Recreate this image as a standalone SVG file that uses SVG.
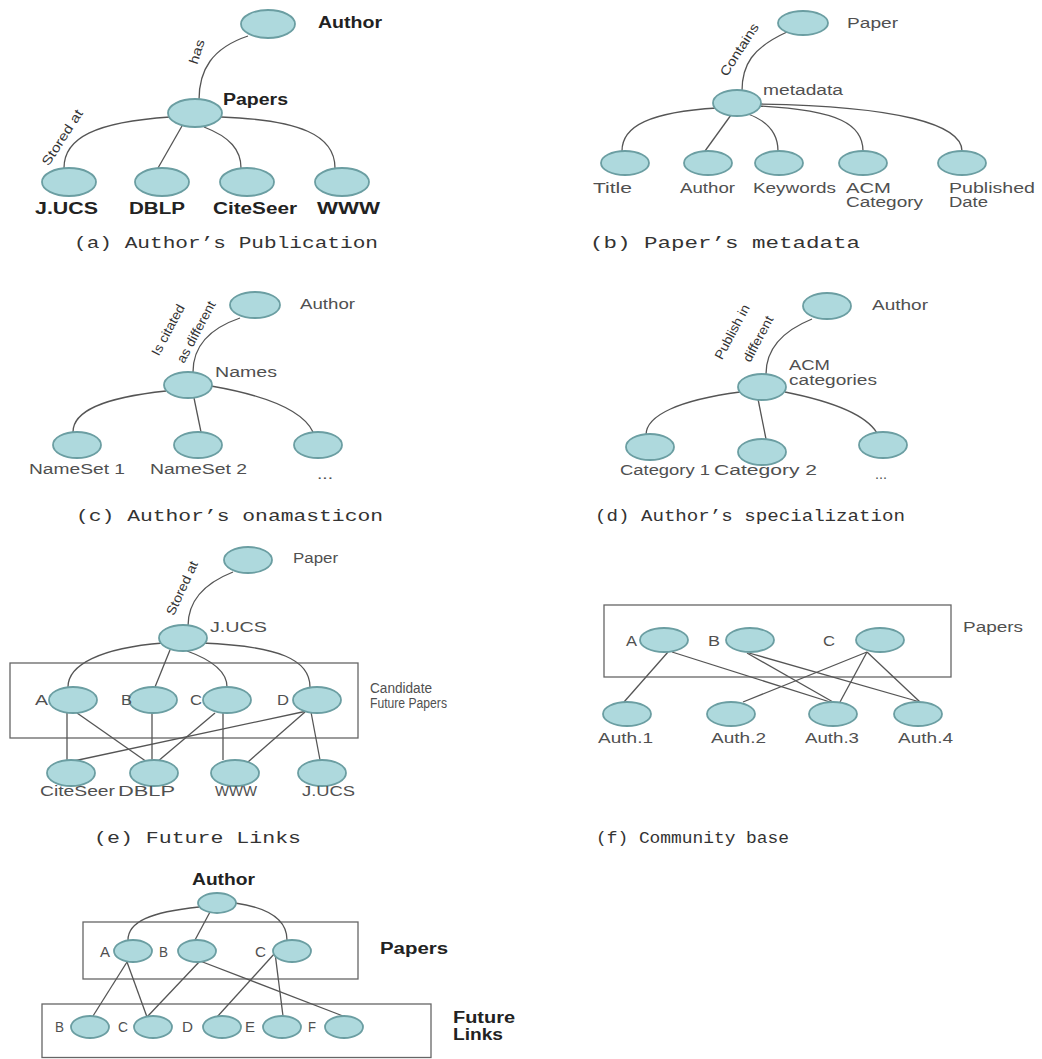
<svg xmlns="http://www.w3.org/2000/svg" width="1042" height="1059" viewBox="0 0 1042 1059">
  <style>
    .nd { fill: #aed9dd; stroke: #6b9ea2; stroke-width: 1.8; }
    .ln { fill: none; stroke: #555; stroke-width: 1.3; }
    .box { fill: none; stroke: #666; stroke-width: 1.3; }
    .lb { font-family: "Liberation Sans", Arial, sans-serif; font-size: 14px; fill: #505050; }
    .bd { font-family: "Liberation Sans", Arial, sans-serif; font-size: 16px; font-weight: bold; fill: #222; }
    .rt { font-family: "Liberation Sans", Arial, sans-serif; font-size: 13px; fill: #333; text-anchor: middle; }
    .cap { font-family: "Liberation Mono", "Courier New", monospace; font-size: 16px; fill: #333; }
  </style>
  <rect width="1042" height="1059" fill="#fff"/>

  <!-- connectors and grouping frames -->
  <g id="connectors">
    <!-- (a) -->
    <path class="ln" d="M 248 36 C 212 48 199 70 199 100"/>
    <path class="ln" d="M 170 117 C 95 122 64 138 64 168"/>
    <path class="ln" d="M 182 126 L 158 168"/>
    <path class="ln" d="M 204 127 C 230 137 241 150 241 168"/>
    <path class="ln" d="M 221 117 C 300 120 335 135 335 168"/>
    <!-- (b) -->
    <path class="ln" d="M 787 32 C 752 48 742 65 742 91"/>
    <path class="ln" d="M 717 108 C 650 112 622 126 622 151"/>
    <path class="ln" d="M 731 115 L 705 151"/>
    <path class="ln" d="M 748 114 C 770 122 778 135 778 151"/>
    <path class="ln" d="M 759 106 C 840 110 863 125 863 151"/>
    <path class="ln" d="M 760 104 C 900 106 962 125 962 151"/>
    <!-- (c) -->
    <path class="ln" d="M 240 318 C 205 330 193 350 193 372"/>
    <path class="ln" d="M 166 391 C 100 398 73 412 73 432"/>
    <path class="ln" d="M 194 398 L 201 432"/>
    <path class="ln" d="M 211 386 C 280 398 305 415 313 432"/>
    <!-- (d) -->
    <path class="ln" d="M 812 319 C 780 332 766 350 766 374"/>
    <path class="ln" d="M 740 392 C 680 400 646 415 646 435"/>
    <path class="ln" d="M 758 399 L 766 439"/>
    <path class="ln" d="M 785 392 C 840 403 868 418 877 433"/>
    <!-- (e) -->
    <rect class="box" x="10" y="663" width="348" height="75"/>
    <path class="ln" d="M 233 572 C 200 585 188 605 188 626"/>
    <path class="ln" d="M 163 643 C 100 648 68 665 68 687"/>
    <path class="ln" d="M 170 650 L 155 687"/>
    <path class="ln" d="M 187 651 C 212 660 227 672 227 687"/>
    <path class="ln" d="M 202 643 C 280 646 310 660 310 687"/>
    <path class="ln" d="M 67 713 L 67 760"/>
    <path class="ln" d="M 77 713 L 147 762"/>
    <path class="ln" d="M 152 713 L 152 760"/>
    <path class="ln" d="M 215 713 L 157 762"/>
    <path class="ln" d="M 223 713 L 223 760"/>
    <path class="ln" d="M 307 711 L 69 762"/>
    <path class="ln" d="M 305 712 L 248 762"/>
    <path class="ln" d="M 311 712 L 320 760"/>
    <!-- (f) -->
    <rect class="box" x="604" y="605" width="347" height="72"/>
    <path class="ln" d="M 668 652 L 624 702"/>
    <path class="ln" d="M 672 652 L 830 702"/>
    <path class="ln" d="M 747 653 L 833 702"/>
    <path class="ln" d="M 749 653 L 920 702"/>
    <path class="ln" d="M 867 652 L 743 702"/>
    <path class="ln" d="M 867 652 L 840 702"/>
    <path class="ln" d="M 867 652 L 920 702"/>
    <!-- (g) -->
    <rect class="box" x="83" y="922" width="275" height="57"/>
    <rect class="box" x="42" y="1004" width="389" height="53.5"/>
    <path class="ln" d="M 199 907 C 150 912 128 922 128 940"/>
    <path class="ln" d="M 210 912 L 195 940"/>
    <path class="ln" d="M 235 903 C 270 908 287 920 287 940"/>
    <path class="ln" d="M 127 962 L 93 1016"/>
    <path class="ln" d="M 127 962 L 147 1017"/>
    <path class="ln" d="M 200 961 L 147 1017"/>
    <path class="ln" d="M 200 961 L 343 1016"/>
    <path class="ln" d="M 275 953 L 217 1017"/>
    <path class="ln" d="M 275 953 L 283 1016"/>
  </g>

  <!-- edge labels -->
  <g id="edge-labels">
    <text class="rt" transform="translate(201,53) rotate(-72)" textLength="25" lengthAdjust="spacingAndGlyphs">has</text>
    <text class="rt" transform="translate(66,140) rotate(-57)" font-size="14" textLength="64" lengthAdjust="spacingAndGlyphs">Stored at</text>
    <text class="rt" transform="translate(743,52) rotate(-57)" textLength="60" lengthAdjust="spacingAndGlyphs">Contains</text>
    <text class="rt" transform="translate(172,332) rotate(-62)" textLength="56" lengthAdjust="spacingAndGlyphs">Is citated</text>
    <text class="rt" transform="translate(200,334) rotate(-62)" textLength="68" lengthAdjust="spacingAndGlyphs">as different</text>
    <text class="rt" transform="translate(736,334) rotate(-62)" textLength="60" lengthAdjust="spacingAndGlyphs">Publish in</text>
    <text class="rt" transform="translate(762,341) rotate(-62)" textLength="50" lengthAdjust="spacingAndGlyphs">different</text>
    <text class="rt" transform="translate(186,590) rotate(-65)" textLength="58" lengthAdjust="spacingAndGlyphs">Stored at</text>
  </g>

  <!-- (a) Author's Publication -->
  <g id="a-author"><ellipse class="nd" cx="268" cy="24" rx="27" ry="14"/><text class="bd" x="318" y="28" textLength="64" lengthAdjust="spacingAndGlyphs">Author</text></g>
  <g id="a-papers"><ellipse class="nd" cx="195" cy="113" rx="27" ry="14"/><text class="bd" x="223" y="105" textLength="65" lengthAdjust="spacingAndGlyphs">Papers</text></g>
  <g id="a-jucs"><ellipse class="nd" cx="69" cy="182" rx="27" ry="14"/><text class="bd" x="35" y="214" textLength="63" lengthAdjust="spacingAndGlyphs">J.UCS</text></g>
  <g id="a-dblp"><ellipse class="nd" cx="162" cy="182" rx="27" ry="14"/><text class="bd" x="129" y="214" textLength="56" lengthAdjust="spacingAndGlyphs">DBLP</text></g>
  <g id="a-citeseer"><ellipse class="nd" cx="247" cy="182" rx="27" ry="14"/><text class="bd" x="213" y="214" textLength="84" lengthAdjust="spacingAndGlyphs">CiteSeer</text></g>
  <g id="a-www"><ellipse class="nd" cx="342" cy="182" rx="27" ry="14"/><text class="bd" x="317" y="214" textLength="63" lengthAdjust="spacingAndGlyphs">WWW</text></g>
  <text class="cap" x="74" y="248" textLength="304" lengthAdjust="spacingAndGlyphs">(a) Author’s Publication</text>

  <!-- (b) Paper's metadata -->
  <g id="b-paper"><ellipse class="nd" cx="803" cy="23" rx="25" ry="12"/><text class="lb" x="847" y="28" textLength="51" lengthAdjust="spacingAndGlyphs">Paper</text></g>
  <g id="b-metadata"><ellipse class="nd" cx="737" cy="103" rx="24" ry="13"/><text class="lb" x="763" y="95" textLength="80" lengthAdjust="spacingAndGlyphs">metadata</text></g>
  <g id="b-title"><ellipse class="nd" cx="625" cy="163" rx="24" ry="12"/><text class="lb" x="593" y="193" textLength="39" lengthAdjust="spacingAndGlyphs">Title</text></g>
  <g id="b-author"><ellipse class="nd" cx="708" cy="163" rx="24" ry="12"/><text class="lb" x="680" y="193" textLength="55" lengthAdjust="spacingAndGlyphs">Author</text></g>
  <g id="b-keywords"><ellipse class="nd" cx="779" cy="163" rx="24" ry="12"/><text class="lb" x="753" y="193" textLength="83" lengthAdjust="spacingAndGlyphs">Keywords</text></g>
  <g id="b-acm"><ellipse class="nd" cx="863" cy="163" rx="24" ry="12"/><text class="lb" x="846" y="193" textLength="45" lengthAdjust="spacingAndGlyphs">ACM</text><text class="lb" x="846" y="207" textLength="77" lengthAdjust="spacingAndGlyphs">Category</text></g>
  <g id="b-published"><ellipse class="nd" cx="962" cy="163" rx="24" ry="12"/><text class="lb" x="949" y="193" textLength="86" lengthAdjust="spacingAndGlyphs">Published</text><text class="lb" x="949" y="207" textLength="39" lengthAdjust="spacingAndGlyphs">Date</text></g>
  <text class="cap" x="590" y="248" textLength="270" lengthAdjust="spacingAndGlyphs">(b) Paper’s metadata</text>

  <!-- (c) Author's onamasticon -->
  <g id="c-author"><ellipse class="nd" cx="255" cy="305" rx="25" ry="13"/><text class="lb" x="300" y="309" textLength="55" lengthAdjust="spacingAndGlyphs">Author</text></g>
  <g id="c-names"><ellipse class="nd" cx="188" cy="385" rx="24" ry="13"/><text class="lb" x="215" y="377" textLength="62" lengthAdjust="spacingAndGlyphs">Names</text></g>
  <g id="c-nameset1"><ellipse class="nd" cx="77" cy="445" rx="24" ry="13"/><text class="lb" x="29" y="474" textLength="96" lengthAdjust="spacingAndGlyphs">NameSet 1</text></g>
  <g id="c-nameset2"><ellipse class="nd" cx="198" cy="445" rx="24" ry="13"/><text class="lb" x="150" y="474" textLength="97" lengthAdjust="spacingAndGlyphs">NameSet 2</text></g>
  <g id="c-more"><ellipse class="nd" cx="318" cy="445" rx="24" ry="13"/><text class="lb" x="317" y="479" textLength="16" lengthAdjust="spacingAndGlyphs">...</text></g>
  <text class="cap" x="76" y="521" textLength="307" lengthAdjust="spacingAndGlyphs">(c) Author’s onamasticon</text>

  <!-- (d) Author's specialization -->
  <g id="d-author"><ellipse class="nd" cx="827" cy="306" rx="24" ry="13"/><text class="lb" x="872" y="310" textLength="56" lengthAdjust="spacingAndGlyphs">Author</text></g>
  <g id="d-acm"><ellipse class="nd" cx="762" cy="387" rx="24" ry="13"/><text class="lb" x="789" y="370" textLength="41" lengthAdjust="spacingAndGlyphs">ACM</text><text class="lb" x="789" y="385" textLength="88" lengthAdjust="spacingAndGlyphs">categories</text></g>
  <g id="d-cat1"><ellipse class="nd" cx="650" cy="447" rx="24" ry="13"/><text class="lb" x="620" y="475" textLength="90" lengthAdjust="spacingAndGlyphs">Category 1</text></g>
  <g id="d-cat2"><ellipse class="nd" cx="762" cy="452" rx="24" ry="13"/><text class="lb" x="714" y="475" textLength="103" lengthAdjust="spacingAndGlyphs">Category 2</text></g>
  <g id="d-more"><ellipse class="nd" cx="883" cy="445" rx="24" ry="13"/><text class="lb" x="875" y="479" fill="#aaa" textLength="12" lengthAdjust="spacingAndGlyphs">...</text></g>
  <text class="cap" x="595" y="521" textLength="310" lengthAdjust="spacingAndGlyphs">(d) Author’s specialization</text>

  <!-- (e) Future Links -->
  <g id="e-paper"><ellipse class="nd" cx="248" cy="560" rx="24" ry="13"/><text class="lb" x="293" y="563" textLength="45" lengthAdjust="spacingAndGlyphs">Paper</text></g>
  <g id="e-jucs"><ellipse class="nd" cx="183" cy="638" rx="24" ry="13"/><text class="lb" x="210" y="632" textLength="57" lengthAdjust="spacingAndGlyphs">J.UCS</text></g>
  <g id="e-a"><ellipse class="nd" cx="73" cy="700" rx="24" ry="13"/><text class="lb" x="35" y="705" textLength="13" lengthAdjust="spacingAndGlyphs">A</text></g>
  <g id="e-b"><ellipse class="nd" cx="153" cy="700" rx="24" ry="13"/><text class="lb" x="121" y="705" textLength="11" lengthAdjust="spacingAndGlyphs">B</text></g>
  <g id="e-c"><ellipse class="nd" cx="227" cy="700" rx="24" ry="13"/><text class="lb" x="190" y="705" textLength="12" lengthAdjust="spacingAndGlyphs">C</text></g>
  <g id="e-d"><ellipse class="nd" cx="317" cy="700" rx="24" ry="13"/><text class="lb" x="277" y="705" textLength="12" lengthAdjust="spacingAndGlyphs">D</text></g>
  <g id="e-candidate"><text class="lb" x="370" y="693" textLength="62" lengthAdjust="spacingAndGlyphs">Candidate</text><text class="lb" x="370" y="708" textLength="77" lengthAdjust="spacingAndGlyphs">Future Papers</text></g>
  <g id="e-citeseer"><ellipse class="nd" cx="71" cy="773" rx="24" ry="13"/><text class="lb" x="40" y="796" textLength="75" lengthAdjust="spacingAndGlyphs">CiteSeer</text></g>
  <g id="e-dblp"><ellipse class="nd" cx="154" cy="773" rx="24" ry="13"/><text class="lb" x="118" y="796" textLength="57" lengthAdjust="spacingAndGlyphs">DBLP</text></g>
  <g id="e-www"><ellipse class="nd" cx="235" cy="773" rx="24" ry="13"/><text class="lb" x="215" y="796" textLength="42" lengthAdjust="spacingAndGlyphs">WWW</text></g>
  <g id="e-jucs2"><ellipse class="nd" cx="322" cy="773" rx="24" ry="13"/><text class="lb" x="302" y="796" textLength="53" lengthAdjust="spacingAndGlyphs">J.UCS</text></g>
  <text class="cap" x="94" y="843" textLength="207" lengthAdjust="spacingAndGlyphs">(e) Future Links</text>

  <!-- (f) Community base -->
  <g id="f-a"><ellipse class="nd" cx="664" cy="640" rx="24" ry="12"/><text class="lb" x="626" y="646" textLength="11" lengthAdjust="spacingAndGlyphs">A</text></g>
  <g id="f-b"><ellipse class="nd" cx="750" cy="640" rx="24" ry="12"/><text class="lb" x="708" y="646" textLength="12" lengthAdjust="spacingAndGlyphs">B</text></g>
  <g id="f-c"><ellipse class="nd" cx="880" cy="640" rx="24" ry="12"/><text class="lb" x="823" y="646" textLength="12" lengthAdjust="spacingAndGlyphs">C</text></g>
  <g id="f-papers"><text class="lb" x="963" y="632" textLength="60" lengthAdjust="spacingAndGlyphs">Papers</text></g>
  <g id="f-auth1"><ellipse class="nd" cx="627" cy="714" rx="24" ry="12"/><text class="lb" x="598" y="743" textLength="55" lengthAdjust="spacingAndGlyphs">Auth.1</text></g>
  <g id="f-auth2"><ellipse class="nd" cx="731" cy="714" rx="24" ry="12"/><text class="lb" x="711" y="743" textLength="55" lengthAdjust="spacingAndGlyphs">Auth.2</text></g>
  <g id="f-auth3"><ellipse class="nd" cx="833" cy="714" rx="24" ry="12"/><text class="lb" x="805" y="743" textLength="54" lengthAdjust="spacingAndGlyphs">Auth.3</text></g>
  <g id="f-auth4"><ellipse class="nd" cx="918" cy="714" rx="24" ry="12"/><text class="lb" x="898" y="743" textLength="55" lengthAdjust="spacingAndGlyphs">Auth.4</text></g>
  <text class="cap" x="596" y="843" textLength="193" lengthAdjust="spacingAndGlyphs">(f) Community base</text>

  <!-- (g) author, papers and future links -->
  <g id="g-author"><ellipse class="nd" cx="217" cy="903" rx="19" ry="10"/><text class="bd" x="192" y="885" textLength="63" lengthAdjust="spacingAndGlyphs">Author</text></g>
  <g id="g-a"><ellipse class="nd" cx="133" cy="951" rx="19" ry="11"/><text class="lb" x="100" y="957" textLength="10" lengthAdjust="spacingAndGlyphs">A</text></g>
  <g id="g-b"><ellipse class="nd" cx="197" cy="951" rx="19" ry="11"/><text class="lb" x="159" y="957" textLength="9" lengthAdjust="spacingAndGlyphs">B</text></g>
  <g id="g-c"><ellipse class="nd" cx="292" cy="951" rx="19" ry="11"/><text class="lb" x="255" y="957" textLength="11" lengthAdjust="spacingAndGlyphs">C</text></g>
  <g id="g-papers"><text class="bd" x="380" y="954" textLength="68" lengthAdjust="spacingAndGlyphs">Papers</text></g>
  <g id="g-fb"><ellipse class="nd" cx="90" cy="1027" rx="19" ry="11"/><text class="lb" x="55" y="1032" textLength="9" lengthAdjust="spacingAndGlyphs">B</text></g>
  <g id="g-fc"><ellipse class="nd" cx="153" cy="1027" rx="19" ry="11"/><text class="lb" x="118" y="1032" textLength="10" lengthAdjust="spacingAndGlyphs">C</text></g>
  <g id="g-fd"><ellipse class="nd" cx="222" cy="1027" rx="19" ry="11"/><text class="lb" x="182" y="1032" textLength="11" lengthAdjust="spacingAndGlyphs">D</text></g>
  <g id="g-fe"><ellipse class="nd" cx="282" cy="1027" rx="19" ry="11"/><text class="lb" x="245" y="1032" textLength="10" lengthAdjust="spacingAndGlyphs">E</text></g>
  <g id="g-ff"><ellipse class="nd" cx="344" cy="1027" rx="19" ry="11"/><text class="lb" x="308" y="1032" textLength="8" lengthAdjust="spacingAndGlyphs">F</text></g>
  <g id="g-future"><text class="bd" x="453" y="1023" textLength="62" lengthAdjust="spacingAndGlyphs">Future</text><text class="bd" x="453" y="1040" textLength="50" lengthAdjust="spacingAndGlyphs">Links</text></g>
</svg>
